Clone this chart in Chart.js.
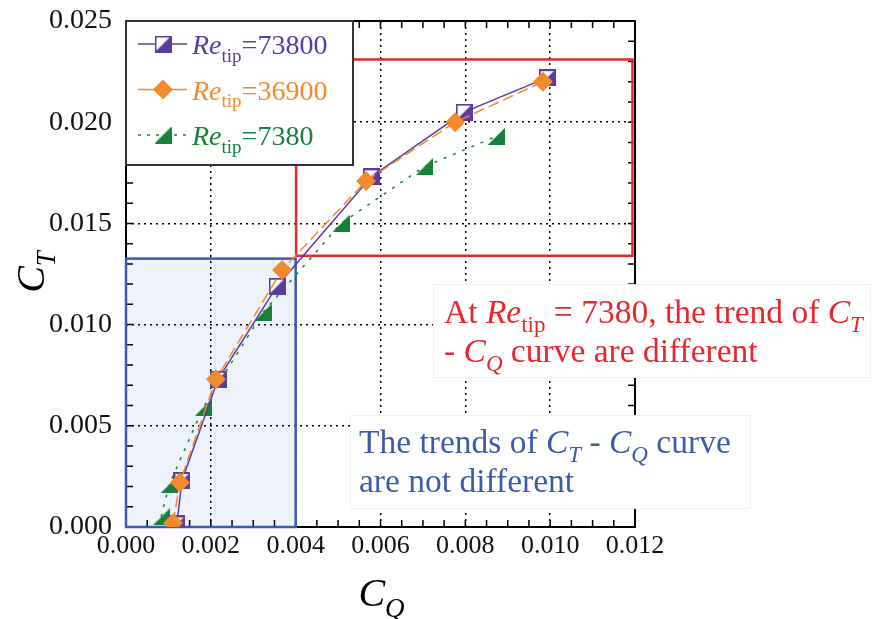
<!DOCTYPE html>
<html lang="en">
<head>
<meta charset="UTF-8">
<title>CT vs CQ</title>
<script src="https://cdn.jsdelivr.net/npm/chart.js"></script>
<style>
  body { margin: 0; background: #fff; }
  #wrap { width: 872px; height: 619px; }
</style>
</head>
<body>
<div id="wrap"><canvas id="ctChart" width="872" height="619"></canvas></div>
<script>
// values
const seriesNames = ["73800", "36900", "7380"];
const cq73800 = [0.00120, 0.00132, 0.00217, 0.00356, 0.00578, 0.00797, 0.00993];
const ct73800 = [0.00015, 0.00230, 0.00730, 0.01190, 0.01730, 0.02050, 0.02220];
const cq36900 = [0.00111, 0.00127, 0.00212, 0.00368, 0.00566, 0.00776, 0.00983];
const ct36900 = [0.00020, 0.00220, 0.00730, 0.01270, 0.01710, 0.02000, 0.02200];
const cq7380 = [0.00083, 0.00102, 0.00182, 0.00323, 0.00507, 0.00703, 0.00873];
const ct7380 = [0.00050, 0.00210, 0.00590, 0.01060, 0.01500, 0.01780, 0.01930];

const xTicks = [0, 0.002, 0.004, 0.006, 0.008, 0.010, 0.012];
const yTicks = [0, 0.005, 0.010, 0.015, 0.020, 0.025];

// highlighted regions [xmin, xmax, ymin, ymax]
const blueRegion = [0, 0.004, 0, 0.01326];
const redRegion = [0.00401, 0.01194, 0.0134, 0.0231];

const serif = '"Liberation Serif", "Times New Roman", serif';
const purple = '#5b3c9e', orange = '#f28a2e', green = '#17803a';
const red = '#e8262d', blue = '#3d5bab';

function pts(xs, ys) { return xs.map((x, i) => ({ x: x, y: ys[i] })); }

// marker images
function squareMarker() {
  const c = document.createElement('canvas');
  c.width = 17; c.height = 17;
  const g = c.getContext('2d');
  g.fillStyle = '#fff';
  g.fillRect(1, 1, 15, 15);
  g.fillStyle = purple;
  g.beginPath(); g.moveTo(1, 16); g.lineTo(16, 16); g.lineTo(16, 1); g.closePath(); g.fill();
  g.strokeStyle = purple; g.lineWidth = 2;
  g.strokeRect(1, 1, 15, 15);
  return c;
}
function triMarker() {
  const c = document.createElement('canvas');
  c.width = 17; c.height = 17;
  const g = c.getContext('2d');
  g.fillStyle = green;
  g.beginPath(); g.moveTo(0, 17); g.lineTo(17, 17); g.lineTo(17, 0); g.closePath(); g.fill();
  return c;
}
const sqImg = squareMarker();
const triImg = triMarker();

function richText(ctx, runs, x, y, size, color, measureOnly) {
  let cx = x;
  ctx.fillStyle = color;
  ctx.textAlign = 'left';
  ctx.textBaseline = 'alphabetic';
  runs.forEach(r => {
    const sz = r.sub ? Math.round(size * 0.68) : size;
    ctx.font = (r.it ? 'italic ' : '') + sz + 'px ' + serif;
    if (!measureOnly) ctx.fillText(r.t, cx, y + (r.sub ? size * 0.28 : 0));
    cx += ctx.measureText(r.t).width;
  });
  return cx - x;
}

const decor = {
  id: 'decor',
  beforeDraw(chart) {
    const { ctx, scales: { x, y } } = chart;
    ctx.save();
    ctx.fillStyle = '#fff';
    ctx.fillRect(0, 0, chart.width, chart.height);
    ctx.fillStyle = '#eef2fb';
    const bx = x.getPixelForValue(blueRegion[0]), bx2 = x.getPixelForValue(blueRegion[1]);
    const by = y.getPixelForValue(blueRegion[3]), by2 = y.getPixelForValue(blueRegion[2]);
    ctx.fillRect(bx, by, bx2 - bx, by2 - by);
    ctx.restore();
  },
  beforeDatasetsDraw(chart) {
    const { ctx, chartArea: a, scales: { x, y } } = chart;
    ctx.save();
    // minor / major inner ticks on all sides
    ctx.strokeStyle = '#000';
    ctx.lineWidth = 1.5;
    ctx.beginPath();
    for (let v = 0.0005; v < 0.012; v += 0.0005) {
      const px = x.getPixelForValue(v);
      ctx.moveTo(px, a.bottom); ctx.lineTo(px, a.bottom - 7);
      ctx.moveTo(px, a.top); ctx.lineTo(px, a.top + 7);
    }
    for (let v = 0.001; v < 0.025; v += 0.001) {
      const py = y.getPixelForValue(v);
      ctx.moveTo(a.left, py); ctx.lineTo(a.left + 7, py);
      ctx.moveTo(a.right, py); ctx.lineTo(a.right - 7, py);
    }
    ctx.stroke();
    // frame
    ctx.lineWidth = 2;
    ctx.strokeRect(a.left, a.top, a.right - a.left, a.bottom - a.top);
    // blue region border
    ctx.strokeStyle = blue;
    ctx.lineWidth = 2.5;
    const bx = x.getPixelForValue(blueRegion[0]), bx2 = x.getPixelForValue(blueRegion[1]);
    const by = y.getPixelForValue(blueRegion[3]), by2 = y.getPixelForValue(blueRegion[2]);
    ctx.strokeRect(bx, by, bx2 - bx, by2 - by);
    // red region border
    ctx.strokeStyle = red;
    const rx = x.getPixelForValue(redRegion[0]), rx2 = x.getPixelForValue(redRegion[1]);
    const ry = y.getPixelForValue(redRegion[3]), ry2 = y.getPixelForValue(redRegion[2]);
    ctx.strokeRect(rx, ry, rx2 - rx, ry2 - ry);
    ctx.restore();
  },
  afterDatasetsDraw(chart) {
    const { ctx, chartArea: a } = chart;
    ctx.save();
    // legend
    ctx.fillStyle = '#fff';
    ctx.fillRect(a.left, a.top, 227, 144);
    ctx.strokeStyle = '#333';
    ctx.lineWidth = 2;
    ctx.strokeRect(a.left, a.top, 227, 144);
    const rows = [
      { name: seriesNames[0], color: purple, dash: [], mark: 'sq' },
      { name: seriesNames[1], color: orange, dash: [], mark: 'dia' },
      { name: seriesNames[2], color: green, dash: [3, 6], mark: 'tri' }
    ];
    rows.forEach((r, i) => {
      const ly = a.top + 23 + i * 45.5;
      ctx.strokeStyle = r.color;
      ctx.lineWidth = 1.5;
      ctx.setLineDash(r.dash);
      ctx.beginPath(); ctx.moveTo(a.left + 12, ly); ctx.lineTo(a.left + 61, ly); ctx.stroke();
      ctx.setLineDash([]);
      const mx = a.left + 37;
      if (r.mark === 'sq') ctx.drawImage(sqImg, mx - 8.5, ly - 8.5);
      else if (r.mark === 'tri') ctx.drawImage(triImg, mx - 8.5, ly - 8.5);
      else {
        ctx.fillStyle = orange;
        ctx.beginPath();
        ctx.moveTo(mx - 10, ly); ctx.lineTo(mx, ly - 10); ctx.lineTo(mx + 10, ly); ctx.lineTo(mx, ly + 10);
        ctx.closePath(); ctx.fill();
      }
      richText(ctx, [{ t: 'Re', it: true }, { t: 'tip', sub: true }, { t: '=' + r.name }],
        a.left + 66, ly + 10, 28, r.color);
    });
    // red note
    ctx.fillStyle = '#fff';
    ctx.fillRect(433, 284, 437, 93);
    ctx.strokeStyle = '#eef0f6';
    ctx.lineWidth = 1;
    ctx.strokeRect(433.5, 284.5, 437, 93);
    richText(ctx, [{ t: 'At ' }, { t: 'Re', it: true }, { t: 'tip', sub: true },
      { t: ' = 7380, the trend of ' }, { t: 'C', it: true }, { t: 'T', it: true, sub: true }],
      444, 323, 33.5, red);
    richText(ctx, [{ t: '- ' }, { t: 'C', it: true }, { t: 'Q', it: true, sub: true },
      { t: ' curve are different' }], 444, 362, 33.5, red);
    // blue note
    ctx.fillStyle = '#fff';
    ctx.fillRect(350, 415, 400, 93);
    ctx.strokeStyle = '#eef0f6';
    ctx.strokeRect(350.5, 415.5, 400, 93);
    richText(ctx, [{ t: 'The trends of ' }, { t: 'C', it: true }, { t: 'T', it: true, sub: true },
      { t: ' - ' }, { t: 'C', it: true }, { t: 'Q', it: true, sub: true }, { t: ' curve' }],
      359, 453, 33.5, blue);
    richText(ctx, [{ t: 'are not different' }], 359, 492, 33.5, blue);
    // axis titles
    const qRuns = [{ t: 'C', it: true }, { t: 'Q', it: true, sub: true }];
    const qw = richText(ctx, qRuns, 0, 0, 40, '#000', true);
    richText(ctx, qRuns, (a.left + a.right) / 2 - qw / 2 + 1, 606, 40, '#000');
    const tRuns = [{ t: 'C', it: true }, { t: 'T', it: true, sub: true }];
    const tw = richText(ctx, tRuns, 0, 0, 40, '#000', true);
    ctx.translate(44, 272);
    ctx.rotate(-Math.PI / 2);
    richText(ctx, tRuns, -tw / 2, 0, 40, '#000');
    ctx.restore();
  }
};

new Chart(document.getElementById('ctChart'), {
  type: 'scatter',
  data: {
    datasets: [
      {
        label: 'Re_tip=' + seriesNames[1],
        data: pts(cq36900, ct36900),
        showLine: true,
        borderColor: orange,
        borderWidth: 1.5,
        borderDash: [11, 5],
        pointStyle: 'rectRot',
        pointRadius: 10,
        pointBackgroundColor: orange,
        pointBorderWidth: 0,
        order: 0
      },
      {
        label: 'Re_tip=' + seriesNames[0],
        data: pts(cq73800, ct73800),
        showLine: true,
        borderColor: purple,
        borderWidth: 1.5,
        pointStyle: sqImg,
        pointRadius: 8,
        order: 1
      },
      {
        label: 'Re_tip=' + seriesNames[2],
        data: pts(cq7380, ct7380),
        showLine: true,
        borderColor: green,
        borderWidth: 1.5,
        borderDash: [3, 7],
        pointStyle: triImg,
        pointRadius: 8,
        order: 2
      }
    ]
  },
  options: {
    responsive: false,
    animation: false,
    layout: { padding: { left: 0, top: 21, right: 237, bottom: 0 } },
    plugins: { legend: { display: false }, tooltip: { enabled: false } },
    elements: { line: { tension: 0 } },
    scales: {
      x: {
        type: 'linear',
        min: 0, max: 0.012,
        afterBuildTicks: s => { s.ticks = xTicks.map(v => ({ value: v })); },
        afterFit: s => { s.height = 92; s.paddingLeft = 0; s.paddingRight = 0; },
        ticks: {
          padding: 4,
          color: '#111',
          font: { family: serif, size: 26 },
          callback: v => v.toFixed(3)
        },
        grid: { color: '#000', lineWidth: 1.5, drawTicks: false },
        border: { display: false, dash: [2, 4] }
      },
      y: {
        type: 'linear',
        min: 0, max: 0.025,
        afterBuildTicks: s => { s.ticks = yTicks.map(v => ({ value: v })); },
        afterFit: s => { s.width = 126; s.paddingTop = 0; s.paddingBottom = 0; },
        ticks: {
          padding: 14,
          color: '#111',
          font: { family: serif, size: 28 },
          callback: v => v.toFixed(3)
        },
        grid: { color: '#000', lineWidth: 1.5, drawTicks: false },
        border: { display: false, dash: [2, 4] }
      }
    }
  },
  plugins: [decor]
});
</script>
</body>
</html>
